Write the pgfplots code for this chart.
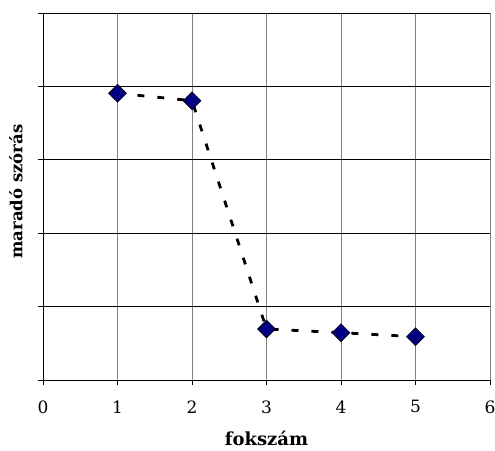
\documentclass[border=0pt]{standalone}
\usepackage{fontspec}
\setmainfont{DejaVu Serif}
\usepackage{pgfplots}
\pgfplotsset{compat=1.18}
\definecolor{navy}{RGB}{0,0,128}
\begin{document}
\begin{tikzpicture}
\useasboundingbox (-43pt,-70pt) rectangle (452pt,380pt);
\begin{axis}[
  at={(0,0)}, anchor=south west,
  scale only axis, width=447pt, height=367pt,
  xmin=0, xmax=6, ymin=0, ymax=5,
  xtick={0,1,2,3,4,5,6}, ytick={0,1,2,3,4,5},
  yticklabels={},
  axis x line=bottom, axis y line=left,
  axis line style={black, line width=0.9pt, -},
  tick style={black, line width=0.8pt},
  tick align=outside, major tick length=5pt,
  xmajorgrids, ymajorgrids,
  x grid style={gray, line width=0.9pt},
  y grid style={black, line width=0.8pt},
  ticklabel style={font=\fontsize{17}{19}\selectfont},
  /pgf/number format/assume math mode=true,
  xticklabel style={yshift=-12pt},
  xlabel={\bfseries fokszám},
  ylabel={\bfseries maradó szórás},
  xlabel style={font=\fontsize{18}{20}\selectfont, at={(axis description cs:0.5,0)}, anchor=center, yshift=-58pt},
  ylabel style={font=\fontsize{16.5}{19}\selectfont, at={(axis description cs:0,0.5)}, anchor=center, yshift=27pt, xshift=5pt},
  clip=false,
]
\addplot[black, line width=2.8pt, dash pattern=on 7pt off 13pt,
  mark=square*, mark size=6.3pt,
  mark options={solid, rotate=45, fill=navy, draw=black, line width=0.6pt}]
  coordinates {(1,3.906) (2,3.805) (3,0.695) (4,0.644) (5,0.59)};
\end{axis}
\end{tikzpicture}
\end{document}
